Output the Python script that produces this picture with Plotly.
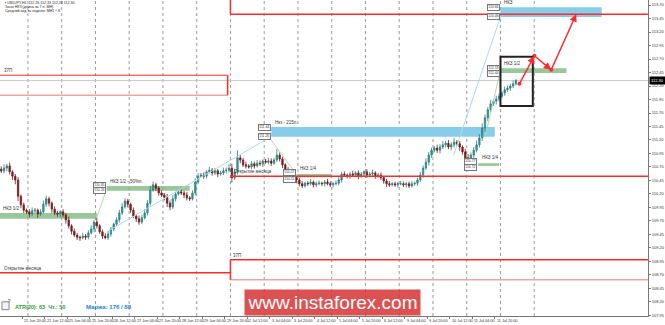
import plotly.graph_objects as go

# ---------------- data (USDJPY H1, aggregated to 2-hour bars) ----------------
# hours are counted in trading hours from 21 Jun 2018 04:00
first_open = 110.66
close = [
    110.63, 110.68, 110.72, 110.61, 110.53, 110.46, 110.16, 110.00, 109.90, 109.87,
    109.83, 109.89, 109.90, 109.83, 109.87, 110.01, 110.11, 110.03, 109.92, 109.85,
    109.83, 109.87, 109.81, 109.72, 109.61, 109.51, 109.44, 109.40, 109.39, 109.42,
    109.40, 109.48, 109.55, 109.68, 109.61, 109.50, 109.42, 109.39, 109.46, 109.55,
    109.64, 109.72, 109.85, 109.96, 110.07, 110.01, 109.90, 109.79, 109.74, 109.68,
    109.76, 109.85, 110.03, 110.27, 110.37, 110.31, 110.22, 110.18, 110.14, 110.03,
    109.96, 110.11, 110.20, 110.24, 110.22, 110.18, 110.13, 110.11, 110.22, 110.42,
    110.53, 110.55, 110.53, 110.61, 110.64, 110.59, 110.63, 110.57, 110.59, 110.63,
    110.64, 110.68, 110.50, 110.61, 110.87, 110.83, 110.74, 110.72, 110.70, 110.76,
    110.72, 110.77, 110.76, 110.81, 110.79, 110.81, 110.77, 110.83, 110.92, 110.85,
    110.74, 110.64, 110.59, 110.53, 110.50, 110.46, 110.39, 110.35, 110.40, 110.39,
    110.42, 110.37, 110.39, 110.40, 110.39, 110.42, 110.39, 110.37, 110.39, 110.40,
    110.46, 110.57, 110.55, 110.53, 110.57, 110.55, 110.59, 110.53, 110.57, 110.61,
    110.55, 110.57, 110.59, 110.53, 110.55, 110.50, 110.44, 110.39, 110.37, 110.39,
    110.37, 110.39, 110.39, 110.37, 110.39, 110.35, 110.39, 110.40, 110.46, 110.55,
    110.68, 110.79, 110.92, 111.01, 111.05, 111.01, 111.07, 111.11, 111.14, 111.07,
    111.11, 111.16, 111.13, 111.07, 110.98, 110.87, 110.79, 110.92, 111.01, 111.11,
    111.24, 111.42, 111.61, 111.76, 111.87, 111.92, 111.96, 112.01, 112.07, 112.13,
    112.16, 112.20, 112.24, 112.30,
]
wick_up_pips = [
    5, 7, 4, 6, 3, 4, 5, 3, 4, 3,
    5, 6, 4, 3, 5, 7, 6, 4, 3, 5,
    4, 3, 5, 4, 6, 3, 5, 4, 3, 6,
    4, 5, 7, 4, 8, 3, 4, 5, 6, 4,
    3, 5, 6, 7, 5, 4, 3, 5, 4, 6,
    5, 7, 6, 8, 6, 4, 3, 5, 4, 6,
    5, 7, 4, 3, 5, 4, 6, 3, 5, 7,
    6, 4, 5, 3, 6, 4, 5, 3, 4, 6,
    5, 7, 8, 6, 14, 5, 4, 6, 3, 5,
    4, 6, 5, 3, 4, 6, 5, 4, 11, 5,
    4, 3, 6, 4, 5, 3, 4, 5, 3, 4,
    6, 3, 4, 5, 3, 4, 6, 4, 3, 5,
    8, 4, 5, 3, 4, 6, 3, 5, 4, 3,
    5, 4, 6, 3, 4, 5, 3, 4, 5, 3,
    4, 3, 5, 4, 3, 4, 5, 3, 4, 6,
    5, 7, 6, 5, 4, 6, 5, 7, 4, 6,
    5, 8, 4, 5, 3, 6, 7, 5, 6, 8,
    7, 9, 6, 5, 7, 4, 6, 5, 4, 6,
    5, 4, 6, 3,
]
wick_dn_pips = [
    4, 5, 6, 5, 7, 8, 9, 6, 5, 4,
    6, 4, 5, 7, 4, 3, 5, 6, 7, 4,
    5, 6, 4, 7, 5, 6, 4, 5, 6, 3,
    5, 4, 3, 6, 5, 4, 5, 3, 4, 5,
    4, 3, 5, 4, 3, 6, 5, 4, 6, 5,
    4, 3, 5, 4, 3, 6, 5, 4, 6, 7,
    6, 4, 5, 3, 4, 6, 5, 4, 3, 5,
    4, 3, 5, 4, 3, 5, 4, 6, 3, 4,
    5, 4, 9, 4, 5, 6, 4, 5, 3, 4,
    5, 3, 4, 6, 3, 4, 5, 3, 4, 5,
    6, 5, 4, 5, 3, 6, 5, 4, 3, 4,
    3, 5, 4, 3, 4, 5, 3, 4, 5, 3,
    4, 5, 3, 4, 5, 3, 4, 6, 3, 4,
    5, 3, 4, 5, 3, 4, 5, 6, 4, 3,
    4, 5, 3, 4, 5, 4, 3, 4, 5, 4,
    5, 4, 6, 5, 4, 5, 6, 4, 5, 4,
    6, 5, 4, 7, 5, 6, 9, 5, 6, 4,
    5, 6, 7, 6, 5, 4, 6, 5, 4, 5,
    4, 5, 4, 3,
]
BAR_HOURS = 2

# x-axis labels (trading-hour offset, text)
tick_hours = [0, 16, 32, 48, 64, 80, 96, 112, 128, 144, 160, 176, 192, 208, 224,
              240, 256, 272, 288, 304, 320, 336, 352]
tick_texts = ["21 Jun 2018", "21 Jun 20:00", "22 Jun 12:00", "25 Jun 04:00", "25 Jun 20:00",
              "26 Jun 12:00", "27 Jun 04:00", "27 Jun 20:00", "28 Jun 12:00", "29 Jun 04:00",
              "29 Jun 20:00", "2 Jul 12:00", "3 Jul 04:00", "3 Jul 20:00", "4 Jul 12:00",
              "5 Jul 04:00", "5 Jul 20:00", "6 Jul 12:00", "9 Jul 04:00", "9 Jul 20:00",
              "10 Jul 12:00", "11 Jul 04:00", "11 Jul 20:00"]
day_start_hours = [20, 44, 68, 92, 116, 140, 164, 188, 212, 236, 260, 284, 308, 332, 356, 380]

price_ticks = ["113.70", "113.45", "113.20", "112.95", "112.70", "112.45", "112.20", "111.95",
               "111.70", "111.45", "111.20", "110.95", "110.70", "110.45", "110.20", "109.95",
               "109.70", "109.45", "109.20", "108.95", "108.70", "108.45", "108.20", "107.95"]
last_price = 112.30

# control zones: (start hour, end hour, low, high, kind, label)
zones = [
    (0, 69, 109.74, 109.85, "green", "НКЗ 1/2"),
    (76, 135, 110.26, 110.35, "green", "НКЗ 1/2 - 50%п."),
    (193, 352, 111.26, 111.44, "blue", "Нкз - 215п."),
    (211, 236, 110.51, 110.57, "green", "НКЗ 1/4"),
    (340, 355, 110.72, 110.77, "green", "НКЗ 1/4"),
    (356, 403, 112.44, 112.53, "green", "НКЗ 1/2"),
    (356, 428, 113.48, 113.66, "blue", "НКЗ"),
]
# connecting thin lines (h0, p0, h1, p1, kind)
links = [
    (69, 109.77, 75.3, 110.24, "green"),
    (78.1, 109.53, 192.9, 111.26, "blue"),
    (192.9, 111.20, 210.7, 110.57, "green"),
    (322.7, 110.92, 356, 113.48, "blue"),
    (345.4, 111.29, 356, 112.50, "green"),
]
# monthly range boxes and month opens
month_switch = 164
june_open = 108.74
july_open = 110.53
left_box = (112.03, 112.40)
bottom_box = (108.61, 108.98)
top_line = 113.53
# forecast path
path_h = [369.5, 380.1, 392.1, 409.9]
path_p = [112.24, 112.76, 112.50, 113.53]
focus_box = (356, 379, 111.83, 112.74)

# ---------------- build ----------------
opens = [first_open] + close[:-1]
highs = [max(o, c) + u / 100 for o, c, u in zip(opens, close, wick_up_pips)]
lows = [min(o, c) - d / 100 for o, c, d in zip(opens, close, wick_dn_pips)]
xs = [i * BAR_HOURS + BAR_HOURS / 2 for i in range(len(close))]

XR = [0.14, 460.9]
YR = [107.94, 113.793]
FONT = "Liberation Sans"
RED = "#ff2a2a"
PINK = "#f4a3a3"
GREEN_FILL = "rgba(120,180,120,0.75)"
BLUE_FILL = "#87cdea"

fig = go.Figure()
fig.add_trace(go.Candlestick(
    x=xs, open=opens, high=highs, low=lows, close=close,
    increasing=dict(line=dict(color="#2b7f7f", width=0.8), fillcolor="#3aa3a3"),
    decreasing=dict(line=dict(color="#6e1a1a", width=0.8), fillcolor="#8e2020"),
    whiskerwidth=0, hoverinfo="skip", showlegend=False,
))

shapes = []
ann = []
# day separators
for h in day_start_hours:
    shapes.append(dict(type="line", x0=h, x1=h, y0=0, y1=1, xref="x", yref="paper",
                       line=dict(color="#9a9a9a", width=1, dash="dot"), layer="below"))
# bid line
shapes.append(dict(type="line", x0=0, x1=1, xref="paper", y0=last_price, y1=last_price,
                   line=dict(color="#c8c8c8", width=1), layer="below"))
# zones
for h0, h1, lo, hi, kind, label in zones:
    shapes.append(dict(type="rect", x0=h0, x1=h1, y0=lo, y1=hi, line=dict(width=0),
                       fillcolor=GREEN_FILL if kind == "green" else BLUE_FILL, layer="below"))
    narrow = (hi - lo) < 0.08
    ann.append(dict(x=h0 + 1.2, y=hi, text=label, showarrow=False, xanchor="left",
                    yanchor="bottom", yshift=1 if narrow else 0,
                    font=dict(size=4.5, color="#333", family=FONT)))
    if h0 > 5:
        for p, shift in ((hi, 2 if narrow else 0), (lo, -2 if narrow else 0)):
            ann.append(dict(x=h0 - 0.5, y=p, text=f"{p:.2f}", showarrow=False, xanchor="right",
                            yanchor="middle", yshift=shift, bgcolor="white", bordercolor="#777",
                            borderwidth=1, borderpad=0.3,
                            font=dict(size=3.4, color="#333", family=FONT)))
for h0, p0, h1, p1, kind in links:
    shapes.append(dict(type="line", x0=h0, x1=h1, y0=p0, y1=p1,
                       line=dict(color="#a8dcf0" if kind == "blue" else "#b5d8b5", width=1)))
# monthly boxes
shapes += [
    dict(type="line", x0=-5, x1=month_switch - 2, y0=left_box[1], y1=left_box[1], line=dict(color=RED, width=1)),
    dict(type="line", x0=-5, x1=month_switch - 2, y0=left_box[0], y1=left_box[0], line=dict(color=PINK, width=1.5)),
    dict(type="line", x0=month_switch - 2, x1=month_switch - 2, y0=left_box[0], y1=left_box[1], line=dict(color=RED, width=1.5)),
    dict(type="line", x0=month_switch, x1=500, y0=bottom_box[1], y1=bottom_box[1], line=dict(color=RED, width=1.5)),
    dict(type="line", x0=month_switch, x1=500, y0=bottom_box[0], y1=bottom_box[0], line=dict(color=PINK, width=1.5)),
    dict(type="line", x0=month_switch, x1=month_switch, y0=bottom_box[0], y1=bottom_box[1], line=dict(color=RED, width=1.5)),
    dict(type="line", x0=month_switch, x1=500, y0=top_line, y1=top_line, line=dict(color=RED, width=1.5)),
    dict(type="line", x0=month_switch, x1=month_switch, y0=top_line, y1=115, line=dict(color=RED, width=1.5)),
    dict(type="line", x0=-5, x1=month_switch, y0=june_open, y1=june_open, line=dict(color=RED, width=1.5)),
    dict(type="line", x0=month_switch, x1=500, y0=july_open, y1=july_open, line=dict(color=RED, width=1.5)),
]
small = dict(size=4.5, color="#333", family=FONT)
ann += [
    dict(x=1.5, y=left_box[1], text="37П", showarrow=False, xanchor="left", yanchor="bottom", font=small),
    dict(x=month_switch + 0.5, y=bottom_box[1], text="37П", showarrow=False, xanchor="left", yanchor="bottom", font=small),
    dict(x=1.5, y=june_open, text="Открытие месяца", showarrow=False, xanchor="left", yanchor="bottom", font=small),
    dict(x=month_switch + 1, y=july_open, text="Открытие месяца", showarrow=False, xanchor="left", yanchor="bottom", font=small),
]
# focus box
shapes.append(dict(type="rect", x0=focus_box[0], x1=focus_box[1], y0=focus_box[2], y1=focus_box[3],
                   line=dict(color="#222", width=2)))
# forecast arrows
for i in range(len(path_h) - 1):
    ann.append(dict(x=path_h[i + 1], y=path_p[i + 1], ax=path_h[i], ay=path_p[i],
                    axref="x", ayref="y", xref="x", yref="y", showarrow=True, text="",
                    arrowhead=2, arrowsize=1, arrowwidth=1.5, arrowcolor=RED))
fig.add_trace(go.Scatter(x=path_h[:3], y=path_p[:3], mode="markers",
                         marker=dict(color=RED, size=4), hoverinfo="skip", showlegend=False))

# x labels
for h, t in zip(tick_hours, tick_texts):
    ann.append(dict(x=h, y=0, xref="x", yref="paper", text=t, showarrow=False, xanchor="left",
                    yanchor="top", yshift=-1, font=dict(size=3.8, color="#333", family=FONT)))
# current price tag
ann.append(dict(x=1, xref="paper", y=last_price, text=f"{last_price:.2f}", showarrow=False,
                xanchor="left", yanchor="middle", bgcolor="black", xshift=1,
                font=dict(size=4, color="white", family=FONT)))
# header
header = ["▪ USDJPY,H1  112.26 112.33 112.24 112.30",
          "Зоны НКЗ (длина за 7 п. МН)",
          "Средний ход за неделю: МН1 ^ 8"]
for i, t in enumerate(header):
    ann.append(dict(x=0.004, y=1 - (3 + i * 4) / 316, xref="paper", yref="paper", text=t,
                    showarrow=False, xanchor="left", yanchor="middle",
                    font=dict(size=3.6, color="#222", family=FONT)))
# bottom info
shapes.append(dict(type="rect", xref="paper", yref="paper", x0=0.003, x1=0.014, y0=0.02, y1=0.045,
                   line=dict(color="#888", width=1), fillcolor="#f2f2f2"))
ann += [
    dict(x=0.0085, y=0.032, xref="paper", yref="paper", text="?", showarrow=False,
         font=dict(size=4.5, color="#333", family=FONT)),
    dict(x=0.02, y=0.03, xref="paper", yref="paper", text="<b>ATR(20): 63  Чт.: 50</b>", showarrow=False,
         xanchor="left", yanchor="middle", font=dict(size=5.5, color="#2e9b3a", family=FONT)),
    dict(x=0.129, y=0.03, xref="paper", yref="paper", text="<b>Маржа: 176 / 88</b>", showarrow=False,
         xanchor="left", yanchor="middle", font=dict(size=6, color="#1a7fe0", family=FONT)),
]
# watermark (annotation with its own red background, so the text stays on top)
ann.append(dict(x=245 / 650, y=0.0, xref="paper", yref="paper", text="www.instaforex.com",
                showarrow=False, xanchor="left", yanchor="bottom", width=175, height=25,
                bgcolor="rgba(214,52,52,0.85)", borderpad=0, align="center", valign="middle",
                font=dict(size=19, color="white", family=FONT)))

fig.update_layout(
    width=665, height=325, margin=dict(l=0, r=15, t=0, b=9),
    paper_bgcolor="white", plot_bgcolor="white",
    shapes=shapes, annotations=ann, showlegend=False,
    xaxis=dict(range=XR, rangeslider=dict(visible=False), showgrid=False, zeroline=False,
               tickvals=tick_hours, showticklabels=False, ticks="outside", ticklen=2,
               tickcolor="#777", showline=True, linecolor="#777", linewidth=1),
    yaxis=dict(range=YR, side="right", showgrid=False, zeroline=False,
               tickvals=[float(t) for t in price_ticks], ticktext=price_ticks,
               tickfont=dict(size=4, color="#333", family=FONT), ticks="outside", ticklen=2,
               tickcolor="#777", showline=True, linecolor="#777", linewidth=1),
)
fig.write_html("out.html")
